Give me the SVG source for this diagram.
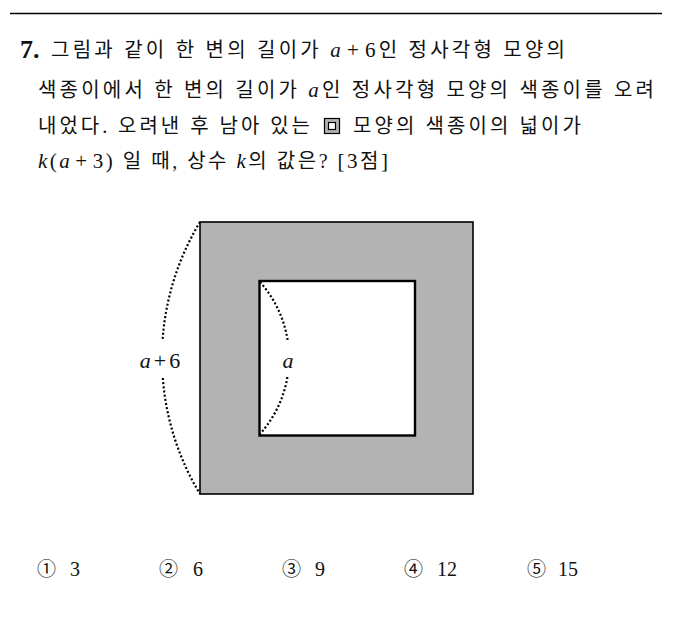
<svg xmlns="http://www.w3.org/2000/svg" width="693" height="628" viewBox="0 0 693 628">
<style>
.kr{font-family:"Liberation Serif","Noto Sans CJK KR",serif;font-size:20px;fill:#111}
.i{font-family:"Liberation Serif",serif;font-style:italic;font-size:21px}
.u{font-family:"Liberation Serif",serif;font-size:21px}
.num{font-family:"Liberation Serif",serif;font-size:20px;fill:#111}
.circ{font-family:"Noto Sans CJK KR",sans-serif;font-size:19px;fill:#111}
.dot{fill:none;stroke:#000;stroke-width:2.2;stroke-dasharray:2 2.2}
</style>
<rect width="693" height="628" fill="#fff"/>
<line x1="10" y1="13.5" x2="662" y2="13.5" stroke="#000" stroke-width="1.4"/>

<g id="question">
<text x="20" y="58" font-family="Liberation Serif,serif" font-weight="bold" font-size="26" fill="#111">7.</text>
<text class="kr" x="51" y="57" textLength="514" lengthAdjust="spacing">그림과 같이 한 변의 길이가 <tspan class="i">a</tspan><tspan class="u" dx="3">+</tspan><tspan class="u" dx="3">6</tspan>인 정사각형 모양의</text>
<text class="kr" x="38" y="97" textLength="616" lengthAdjust="spacing">색종이에서 한 변의 길이가 <tspan class="i">a</tspan>인 정사각형 모양의 색종이를 오려</text>
<text class="kr" x="38" y="133" textLength="272" lengthAdjust="spacing">내었다. 오려낸 후 남아 있는</text>
<text class="kr" x="353" y="133" textLength="228" lengthAdjust="spacing">모양의 색종이의 넓이가</text>
<text class="kr" x="38" y="168" textLength="350" lengthAdjust="spacing"><tspan class="i">k</tspan><tspan class="u">(</tspan><tspan class="i">a</tspan><tspan class="u" dx="3">+</tspan><tspan class="u" dx="3">3)</tspan> 일 때, 상수 <tspan class="i">k</tspan>의 값은? <tspan class="u">[3</tspan>점<tspan class="u">]</tspan></text>
</g>

<g id="icon">
<rect x="324.5" y="118.5" width="15" height="15" fill="#b3b3b3" stroke="#000" stroke-width="1.2"/>
<rect x="328.5" y="122.5" width="7" height="7" fill="#fff" stroke="#000" stroke-width="1.2"/>
</g>

<g id="outer-square">
<rect x="200" y="222" width="273" height="272" fill="#b3b3b3" stroke="#000" stroke-width="1.6"/>
</g>
<g id="inner-square">
<rect x="259.5" y="281" width="155.5" height="154.5" fill="#fff" stroke="#000" stroke-width="2.4"/>
</g>

<g id="connectors">
<path class="dot" d="M200,222 A262.4,262.4 0 0,0 162.6,340"/>
<path class="dot" d="M162.8,378 A262.4,262.4 0 0,0 200,494"/>
<path class="dot" d="M260,282 A114.1,114.1 0 0,1 287.6,340"/>
<path class="dot" d="M287.4,377 A114.1,114.1 0 0,1 260,434"/>
</g>

<g id="labels">
<text x="160" y="368" text-anchor="middle" font-family="Liberation Serif,serif" font-size="22" fill="#111"><tspan font-style="italic">a</tspan><tspan dx="3">+</tspan><tspan dx="3">6</tspan></text>
<text x="288" y="368" text-anchor="middle" font-family="Liberation Serif,serif" font-style="italic" font-size="22" fill="#111">a</text>
</g>

<g id="choices">
<text class="circ" x="37" y="576">①</text><text class="num" x="70" y="576">3</text>
<text class="circ" x="159" y="576">②</text><text class="num" x="193" y="576">6</text>
<text class="circ" x="282" y="576">③</text><text class="num" x="315" y="576">9</text>
<text class="circ" x="404" y="576">④</text><text class="num" x="437" y="576">12</text>
<text class="circ" x="527" y="576">⑤</text><text class="num" x="558" y="576">15</text>
</g>
</svg>
